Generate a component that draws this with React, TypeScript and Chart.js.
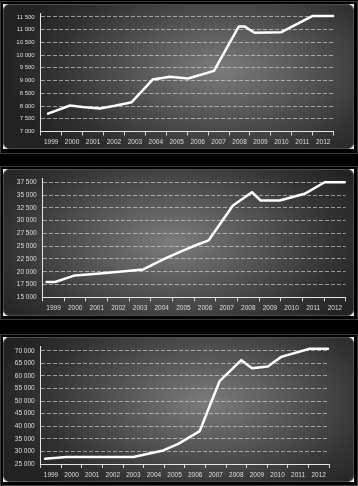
import React, { useEffect, useRef } from "react";
import { Chart, registerables } from "chart.js";

Chart.register(...registerables);

const YEAR_LABELS = ["1999", "2000", "2001", "2002", "2003", "2004", "2005", "2006", "2007", "2008", "2009", "2010", "2011", "2012"];

// Panel 1
const X1 = [1999.35, 2000.4, 2001.0, 2001.83, 2002.55, 2003.35, 2004.35, 2005.18, 2006.04, 2007.28, 2008.46, 2008.75, 2009.22, 2010.5, 2012.0, 2012.97];
const V1 = [7700, 8020, 7960, 7900, 8010, 8150, 9040, 9150, 9080, 9380, 11120, 11120, 10880, 10900, 11540, 11540];
const TICKS1 = [7000, 7500, 8000, 8500, 9000, 9500, 10000, 10500, 11000, 11500];

// Panel 2
const X2 = [1999.18, 1999.57, 2000.49, 2001.65, 2003.65, 2004.57, 2005.34, 2005.95, 2006.67, 2007.79, 2008.67, 2009.07, 2009.95, 2011.1, 2012.03, 2012.96];
const V2 = [18000, 18000, 19280, 19670, 20450, 22400, 23900, 24980, 26150, 32960, 35550, 33930, 33930, 35240, 37500, 37500];
const TICKS2 = [15000, 17500, 20000, 22500, 25000, 27500, 30000, 32500, 35000, 37500];

// Panel 3
const X3 = [1999.21, 2000.26, 2003.5, 2004.95, 2005.68, 2006.72, 2007.69, 2008.74, 2009.26, 2010.03, 2010.68, 2012.06, 2012.95];
const V3 = [27040, 27800, 27800, 30380, 33000, 38080, 57960, 66270, 63080, 63730, 67580, 70800, 70800];
const TICKS3 = [25000, 30000, 35000, 40000, 45000, 50000, 55000, 60000, 65000, 70000];

const FONT = "'Liberation Sans', Arial, sans-serif";

function fmt(v: number) {
  return String(v).replace(/\B(?=(\d{3})+(?!\d))/g, " ");
}

type PanelProps = {
  left: number;
  top: number;
  width: number;
  height: number;
  xs: number[];
  ys: number[];
  ticks: number[];
  min: number;
  max: number;
  padTop: number;
  padRight: number;
  yWidth: number;
  xHeight: number;
  yFont: number;
  gradient: string;
};

function Panel(p: PanelProps) {
  const ref = useRef<HTMLCanvasElement | null>(null);
  useEffect(() => {
    if (!ref.current) return;
    const chart = new Chart(ref.current, {
      type: "line",
      data: {
        labels: YEAR_LABELS,
        datasets: [
          {
            data: p.xs.map((x, i) => ({ x, y: p.ys[i] })),
            xAxisID: "xd",
            yAxisID: "y",
            borderColor: "#ffffff",
            borderWidth: 2.5,
            pointRadius: 0,
            tension: 0,
            fill: false,
            borderJoinStyle: "round",
            borderCapStyle: "round",
            clip: false,
          } as any,
        ],
      },
      options: {
        animation: false,
        responsive: false,
        devicePixelRatio: 1,
        layout: { padding: { top: p.padTop, right: p.padRight, left: 0, bottom: 0 } },
        plugins: { legend: { display: false }, tooltip: { enabled: false } },
        scales: {
          x: {
            type: "category",
            position: "bottom",
            offset: true,
            grid: { offset: true, drawOnChartArea: false, drawTicks: true, tickLength: 4, color: "#d6d6d6", lineWidth: 1 },
            border: { display: true, color: "#e6e6e6", width: 1 },
            ticks: { color: "#dedede", font: { family: FONT, size: 6.5 }, padding: 3, maxRotation: 0, autoSkip: false },
            afterFit: (s: any) => {
              s.height = p.xHeight;
            },
          } as any,
          xd: { type: "linear", display: false, min: 1999, max: 2013 },
          y: {
            type: "linear",
            min: p.min,
            max: p.max,
            ticks: {
              autoSkip: false,
              color: "#dedede",
              font: { family: FONT, size: p.yFont },
              padding: 6,
              callback: (v: any) => fmt(Number(v)),
            },
            afterBuildTicks: (s: any) => {
              s.ticks = p.ticks.map((v) => ({ value: v }));
            },
            grid: { color: "rgba(225,225,225,0.6)", drawTicks: false, lineWidth: 1 },
            border: { display: true, color: "#e6e6e6", width: 1, dash: [4, 2] },
            afterFit: (s: any) => {
              s.width = p.yWidth;
            },
          } as any,
        },
      },
    });
    return () => chart.destroy();
  }, []);

  return (
    <div
      style={{
        position: "absolute",
        left: p.left,
        top: p.top,
        width: p.width,
        height: p.height,
        background: "#e8e8e8",
        overflow: "hidden",
      }}
    >
      <div
        style={{
          position: "absolute",
          left: 0,
          top: 0,
          right: 0,
          bottom: 0,
          borderRadius: 7,
          background: p.gradient,
          boxShadow: "inset 0 0 0 1px #4e4e4e",
        }}
      />
      <canvas ref={ref} width={p.width} height={p.height} style={{ position: "absolute", left: 0, top: 0 }} />
    </div>
  );
}

function Frame({ top, height }: { top: number; height: number }) {
  return (
    <div
      style={{
        position: "absolute",
        left: 0,
        top,
        width: 356,
        height,
        border: "1px solid #3a3a3a",
      }}
    />
  );
}

export default function App() {
  return (
    <div style={{ position: "relative", width: 358, height: 486, background: "#000", overflow: "hidden" }}>
      <style>{`body{margin:0;background:#000}`}</style>
      <Frame top={1} height={151} />
      <Frame top={166} height={152} />
      <Frame top={334} height={150} />
      <Panel
        left={3}
        top={4}
        width={351}
        height={145}
        xs={X1}
        ys={V1}
        ticks={TICKS1}
        min={7000}
        max={11630}
        padTop={7.7}
        padRight={20.3}
        yWidth={37.7}
        xHeight={17.5}
        yFont={6}
        gradient="radial-gradient(ellipse 62% 80% at 62% 45%, #7c7c7c 0%, #5a5a5a 35%, #333 75%, #222 100%)"
      />
      <Panel
        left={3}
        top={169}
        width={351}
        height={147}
        xs={X2}
        ys={V2}
        ticks={TICKS2}
        min={15000}
        max={38160}
        padTop={9.3}
        padRight={8.3}
        yWidth={39.7}
        xHeight={18.7}
        yFont={6.5}
        gradient="radial-gradient(ellipse 62% 80% at 48% 50%, #7c7c7c 0%, #5a5a5a 35%, #333 75%, #222 100%)"
      />
      <Panel
        left={3}
        top={337}
        width={351}
        height={145}
        xs={X3}
        ys={V3}
        ticks={TICKS3}
        min={25000}
        max={71540}
        padTop={6.3}
        padRight={25}
        yWidth={37.7}
        xHeight={18}
        yFont={6.5}
        gradient="radial-gradient(ellipse 62% 80% at 58% 45%, #7c7c7c 0%, #5a5a5a 35%, #333 75%, #222 100%)"
      />
    </div>
  );
}
